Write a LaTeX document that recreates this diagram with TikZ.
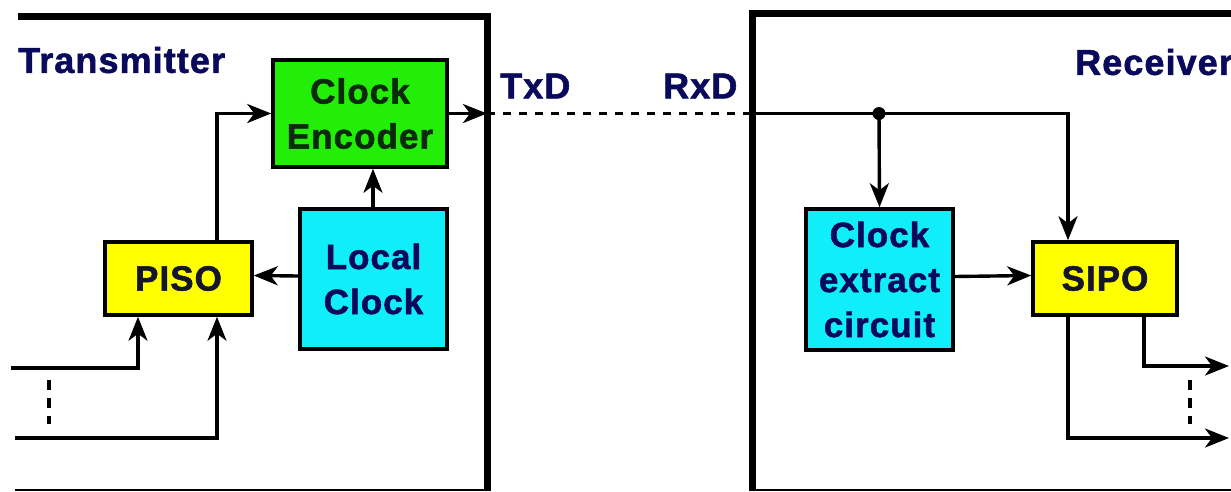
\documentclass[tikz,border=0pt]{standalone}
\usepackage{fontspec}
\setmainfont{Liberation Sans}[LetterSpace=3, BoldFeatures={FakeBold=1.5}]
\usetikzlibrary{arrows.meta}
\definecolor{navy}{HTML}{0A0A5C}
\definecolor{encgreen}{HTML}{22EE08}
\definecolor{cyanbox}{HTML}{10EEFA}
\definecolor{yel}{HTML}{FFFF00}
\definecolor{dkgreen}{HTML}{0A2A0A}
\definecolor{dk}{HTML}{14142A}
\tikzset{
  blk/.style={draw=black, line width=3.5pt, align=center, inner sep=0pt,
    font=\fontsize{35}{45}\selectfont\bfseries},
  arr/.style={line width=3.4pt, -{Stealth[length=24pt,width=19pt,inset=7pt]}},
  wire/.style={line width=3.4pt},
  frame/.style={line width=7pt},
  thinframe/.style={line width=2.5pt},
  lbl/.style={anchor=west, inner sep=0pt, text=navy, font=\fontsize{36}{40}\selectfont\bfseries},
  dotted wire/.style={line width=3.6pt, dash pattern=on 8pt off 8pt},
}
\begin{document}
\begin{tikzpicture}[x=1pt,y=-1pt]
\useasboundingbox (0,0) rectangle (1231,491);
\fill[white] (0,0) rectangle (1231,491);
% frames
\draw[frame] (18,16) -- (487,16) -- (487,491);
\draw[thinframe] (15,490) -- (487,490);
\draw[frame] (752,491) -- (752,13) -- (1231,13);
\draw[thinframe] (752,490) -- (1231,490);
% labels
\node[lbl] (tlab) at (18,60) {Transmitter};
\node[lbl] (txd) at (500,86) {TxD};
\node[lbl] (rxd) at (663,86) {RxD};
\node[lbl] (rlab) at (1075,62) {Receiver};
% blocks
\node[blk, fill=encgreen, text=dkgreen, minimum width=174pt, minimum height=107pt] (enc) at (360,113.5) {Clock\\Encoder};
\node[blk, fill=cyanbox, text=navy, minimum width=147pt, minimum height=140pt] (local) at (373.5,279) {Local\\Clock};
\node[blk, fill=yel, text=dk, minimum width=147pt, minimum height=73pt] (piso) at (178.5,278.5) {PISO};
\node[blk, fill=cyanbox, text=navy, minimum width=147pt, minimum height=141pt] (ce) at (879.5,279.5) {Clock\\extract\\circuit};
\node[blk, fill=yel, text=dk, minimum width=144pt, minimum height=73pt] (sipo) at (1105,278.5) {SIPO};
% coordinates
\coordinate (in1) at (11,368);
\coordinate (in2) at (15,438);
\coordinate (tx) at (487,113.5);
\coordinate (rx) at (752,113.5);
\coordinate (rstart) at (746,113.5);
\coordinate (dot) at (879,113.5);
\coordinate (out1) at (1229,366);
\coordinate (out2) at (1229,438);
\coordinate (dl1) at (49,380);
\coordinate (dl2) at (49,424);
\coordinate (dr1) at (1190,380);
\coordinate (dr2) at (1190,424);
% transmitter connectors
\draw[arr] ([xshift=38.5pt]piso.north) |- (enc.west);
\draw[arr] (local.north -| 373,0) -- (enc.south -| 373,0);
\draw[arr] ([yshift=3pt]local.west) -- ([yshift=3pt]piso.east);
\draw[arr] (in1) -| ([xshift=-40.5pt]piso.south);
\draw[arr] (in2) -| ([xshift=38.5pt]piso.south);
\draw[wire, dash pattern=on 10pt off 8pt] (dl1) -- (dl2);
\draw[arr] (enc.east) -- (tx);
\draw[dotted wire] (tx) -- (rx);
% receiver connectors
\draw[arr] (rstart) -| ([xshift=-37pt]sipo.north);
\fill (dot) circle (6.5pt);
\draw[arr] (dot) -- (ce.north);
\draw[arr] ([yshift=3pt]ce.east) -- ([yshift=3pt]sipo.west);
\draw[arr] ([xshift=39pt]sipo.south) |- (out1);
\draw[arr] ([xshift=-37pt]sipo.south) |- (out2);
\draw[wire, dash pattern=on 10pt off 8pt] (dr1) -- (dr2);
\end{tikzpicture}
\end{document}
